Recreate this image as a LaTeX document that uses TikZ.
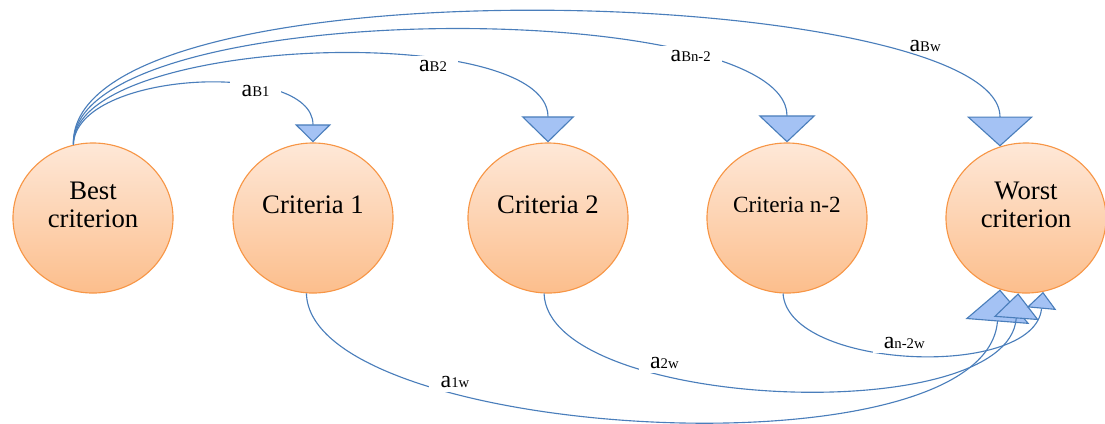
\documentclass[tikz,border=0pt]{standalone}
\usepackage{fontspec}
\setmainfont{Liberation Serif}
\usetikzlibrary{shapes,arrows.meta}
\definecolor{critline}{HTML}{F79646}
\definecolor{crittop}{HTML}{FEE8D8}
\definecolor{critbot}{HTML}{FCBE8C}
\definecolor{linkblue}{HTML}{4A7EBB}
\definecolor{tipfill}{HTML}{A4C2F4}
\newcommand{\lbltext}[1]{{\fontsize{17}{17}\selectfont a}{\fontsize{10.5}{10.5}\selectfont #1}}

\begin{document}
\begin{tikzpicture}[x=0.025cm,y=-0.025cm,
    crit/.style={ellipse,draw=critline,line width=0.8pt,top color=crittop,bottom color=critbot,
      minimum width=4cm,minimum height=3.75cm,inner sep=0pt},
    crittext/.style={align=center,yshift=0.325cm,font=\fontsize{19}{20}\selectfont},
    link/.style={draw=linkblue,line width=0.8pt},
    tipsz/.style 2 args={-{Triangle[width=#1,length=#2,fill=tipfill]}},
    lbl/.style={fill=white,inner xsep=8pt,inner ysep=3pt}]
      \useasboundingbox (0,0) rectangle (1105,423);
      % criteria
      \node[crit,label={[crittext]center:{Best\\criterion}}] (best) at (93,218) {};
      \node[crit,label={[crittext]center:{Criteria 1}}] (c1) at (313,218) {};
      \node[crit,label={[crittext]center:{Criteria 2}}] (c2) at (548,218) {};
      \node[crit,label={[crittext,font=\fontsize{16.5}{18}\selectfont]center:{Criteria n-2}}] (cn2) at (787,218) {};
      \node[crit,label={[crittext]center:{Worst\\criterion}}] (worst) at (1026,218) {};
      % best to others
      \draw[link,tipsz={25.6pt}{12.8pt}] (best.105) .. controls (76,70) and (313,60) .. (c1.north) node[lbl,pos=0.68] {\lbltext{B1}};
      \draw[link,tipsz={37.7pt}{18.5pt}] (best.105) .. controls (72,35) and (548,20) .. (c2.north) node[lbl,pos=0.68] {\lbltext{B2}};
      \draw[link,tipsz={40.5pt}{19.2pt}] (best.105) .. controls (70,-5) and (787,-5) .. (cn2.north) node[lbl,pos=0.77,yshift=0.2cm] {\lbltext{Bn-2}};
      \draw[link,tipsz={47pt}{21.3pt}] (best.105) .. controls (68,-45) and (1000,-15) .. (worst.110) node[lbl,fill=none,pos=0.8,xshift=0.55cm,yshift=0.5cm] {\lbltext{Bw}};
      % others to worst
      \draw[link,tipsz={45.5pt}{22.8pt}] (c1.-95) .. controls (310,440) and (985,480) .. (worst.-110) node[lbl,pos=0.3,yshift=0.28cm] {\lbltext{1w}};
      \draw[link,tipsz={32pt}{18pt}] (c2.-93) .. controls (548,410) and (1008,430) .. (worst.-96) node[lbl,pos=0.33,yshift=0.3cm] {\lbltext{2w}};
      \draw[link,tipsz={21pt}{12pt}] (cn2.-93) .. controls (788,370) and (1035,380) .. (worst.-77) node[lbl,pos=0.48,yshift=0.28cm] {\lbltext{n-2w}};
\end{tikzpicture}
\end{document}
